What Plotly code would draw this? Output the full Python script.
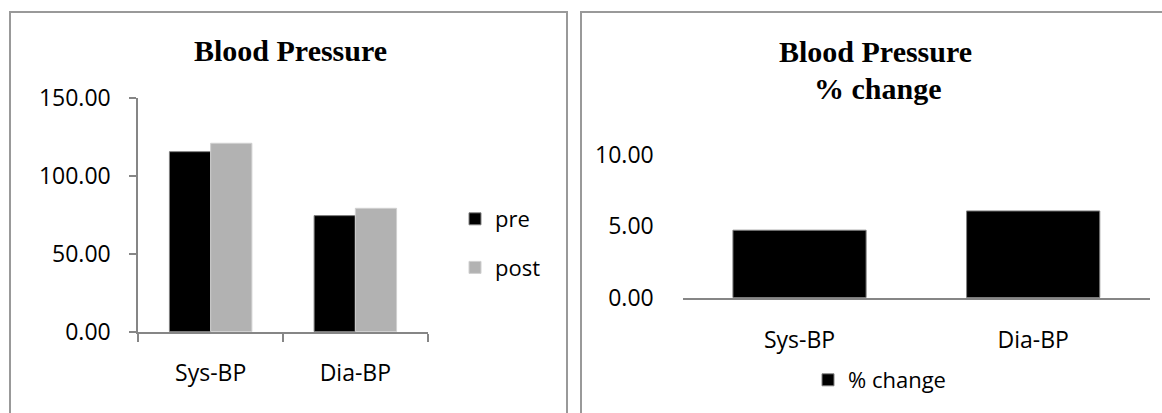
import plotly.graph_objects as go

W, H = 1162, 413

categories = ["Sys-BP", "Dia-BP"]
pre_values = [115.7, 74.6]
post_values = [121.1, 79.3]
pct_change = [4.73, 6.08]

title_left = "Blood Pressure"
title_right_1 = "Blood Pressure"
title_right_2 = "% change"

def px_x(p):
    return p / W

def px_y(p):
    return 1 - p / H

AX = "#868686"
FONT = "Open Sans"
TICK_SIZE = 23
LEG_SIZE = 22

fig = go.Figure()

fig.add_trace(go.Bar(
    x=categories, y=pre_values, name="pre",
    marker=dict(color="#000000", line=dict(color="#808080", width=1)),
    xaxis="x", yaxis="y", legend="legend", legendgroup="g1",
))
fig.add_trace(go.Bar(
    x=categories, y=post_values, name="post",
    marker=dict(color="#b2b2b2", line=dict(color="#d0d0d0", width=1)),
    xaxis="x", yaxis="y", legend="legend", legendgroup="g2",
))
fig.add_trace(go.Bar(
    x=categories, y=pct_change, name="% change",
    marker=dict(color="#000000", line=dict(color="#808080", width=1)),
    xaxis="x2", yaxis="y2", legend="legend2",
))

tickfont = dict(family=FONT, size=TICK_SIZE, color="#000000")

fig.update_layout(
    width=W, height=H, autosize=False,
    margin=dict(l=0, r=0, t=0, b=0, pad=0, autoexpand=False),
    paper_bgcolor="white", plot_bgcolor="white",
    barmode="group", bargap=0.43, bargroupgap=0,
    xaxis=dict(
        domain=[px_x(138.3), px_x(427.7)], anchor="y",
        showline=True, linecolor=AX, linewidth=2,
        ticks="outside", tickson="boundaries", ticklen=8, tickwidth=2, tickcolor=AX,
        tickfont=tickfont, showgrid=False, zeroline=False,
        ticklabelstandoff=20, automargin=False,
    ),
    yaxis=dict(
        domain=[px_y(331.7), px_y(98.3)], anchor="x",
        range=[0, 150], dtick=50, tickformat=".2f",
        showline=True, linecolor=AX, linewidth=2,
        ticks="outside", ticklen=7, tickwidth=2, tickcolor=AX,
        tickfont=tickfont, showgrid=False, zeroline=False,
        ticklabelstandoff=14, automargin=False,
    ),
    xaxis2=dict(
        domain=[px_x(682.7), px_x(1150)], anchor="y2",
        showline=True, linecolor=AX, linewidth=2,
        ticks="", tickfont=tickfont, showgrid=False, zeroline=False,
        ticklabelstandoff=21, automargin=False,
    ),
    yaxis2=dict(
        domain=[px_y(297.7), px_y(155)], anchor="x2",
        range=[0, 10], dtick=5, tickformat=".2f",
        showline=False, ticks="", tickfont=tickfont,
        showgrid=False, zeroline=False,
        ticklabelstandoff=28, automargin=False,
    ),
    legend=dict(
        x=px_x(455), y=px_y(198), xanchor="left", yanchor="top",
        orientation="v", font=dict(family=FONT, size=LEG_SIZE, color="#000000"),
        bgcolor="rgba(0,0,0,0)", borderwidth=0, tracegroupgap=17,
    ),
    legend2=dict(
        x=px_x(808), y=px_y(359), xanchor="left", yanchor="top",
        orientation="h", font=dict(family=FONT, size=LEG_SIZE, color="#000000"),
        bgcolor="rgba(0,0,0,0)", borderwidth=0,
    ),
    showlegend=True,
)

title_font = dict(family="Liberation Serif", size=30, color="#000000")
fig.add_annotation(text="<b>%s</b>" % title_left, xref="paper", yref="paper",
                   x=px_x(290), y=px_y(50), xanchor="center", yanchor="middle",
                   showarrow=False, font=title_font)
fig.add_annotation(text="<b>%s</b>" % title_right_1, xref="paper", yref="paper",
                   x=px_x(875), y=px_y(52), xanchor="center", yanchor="middle",
                   showarrow=False, font=title_font)
fig.add_annotation(text="<b>%s</b>" % title_right_2, xref="paper", yref="paper",
                   x=px_x(878), y=px_y(88), xanchor="center", yanchor="middle",
                   showarrow=False, font=title_font)

border = dict(color="#999999", width=2)
fig.add_shape(type="rect", xref="paper", yref="paper",
              x0=px_x(10), x1=px_x(567), y0=px_y(12), y1=px_y(430),
              line=border, fillcolor="rgba(0,0,0,0)", layer="below")
fig.add_shape(type="rect", xref="paper", yref="paper",
              x0=px_x(581), x1=px_x(1175), y0=px_y(12), y1=px_y(430),
              line=border, fillcolor="rgba(0,0,0,0)", layer="below")

fig.write_html(
    "out.html",
    config={"displayModeBar": False},
    post_script="document.body.style.margin='0px';document.body.style.overflow='hidden';",
)
